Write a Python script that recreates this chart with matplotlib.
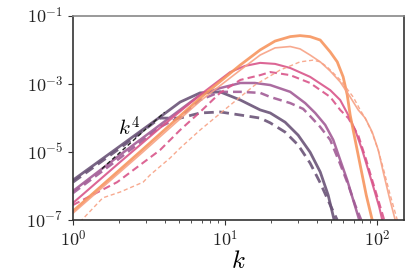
import numpy as np
import matplotlib
matplotlib.use("Agg")
import matplotlib.pyplot as plt
from matplotlib.ticker import LogLocator, NullFormatter, NullLocator

plt.rcParams['mathtext.fontset'] = 'cm'
plt.rcParams['font.family'] = ['DejaVu Serif']

# ---- data (k, log10 E) ----
k_a = [1, 2.04, 3.73, 5.06, 6.85, 9.27, 12.6, 17.0, 19.8, 24.8, 30.2, 36.2, 42.2, 47.6, 52.1]
lE_a = [-5.83, -4.83, -3.98, -3.54, -3.27, -3.24, -3.48, -3.77, -3.86, -4.13, -4.51, -5.01, -5.59, -6.27, -7.00]

k_b = [1, 2.04, 3.73, 5.06, 6.85, 9.27, 12.6, 17.0, 19.8, 24.8, 30.2, 36.2, 42.2, 49.1, 54.6]
lE_b = [-5.89, -4.89, -4.01, -4.01, -3.86, -3.83, -3.92, -4.01, -4.15, -4.42, -4.80, -5.33, -5.91, -6.56, -7.00]

k_c = [1, 2.04, 3.73, 6.85, 9.27, 12.6, 15.7, 19.8, 26.8, 33.6, 39.1, 45.5, 51.4, 57.1, 63.5, 69.5, 76.2]
lE_c = [-6.15, -5.09, -4.21, -3.33, -3.13, -2.98, -2.98, -3.04, -3.24, -3.57, -3.86, -4.21, -4.65, -5.24, -5.83, -6.41, -7.00]

k_d = [1, 2.04, 3.73, 5.06, 6.85, 9.27, 12.6, 17.0, 19.8, 26.8, 32.6, 36.2, 42.2, 49.1, 57.1, 64.5, 71.6, 78.5]
lE_d = [-6.21, -5.18, -4.27, -3.98, -3.48, -3.24, -3.24, -3.27, -3.39, -3.57, -3.74, -3.95, -4.27, -4.65, -5.36, -5.97, -6.56, -7.00]

k_e = [1, 2.04, 3.73, 6.85, 10.8, 13.5, 17.0, 21.3, 26.8, 36.2, 49.1, 57.1, 64.5, 71.6, 79.7, 87.3, 95.6, 103.1, 107.9]
lE_e = [-6.50, -5.30, -4.30, -3.33, -2.66, -2.48, -2.39, -2.42, -2.54, -2.80, -3.19, -3.48, -3.92, -4.36, -4.95, -5.53, -6.12, -6.62, -7.00]

k_f = [1, 1.95, 3.73, 5.06, 6.85, 9.27, 12.6, 17.0, 19.8, 26.8, 36.2, 49.1, 57.1, 64.5, 75.0, 84.7, 92.7, 101.6, 111.2]
lE_f = [-6.56, -5.89, -4.95, -4.36, -3.83, -3.27, -2.89, -2.75, -2.66, -2.75, -2.98, -3.39, -3.77, -4.01, -4.51, -5.24, -5.83, -6.41, -7.00]

k_g = [1, 2.84, 6.85, 12.6, 17.0, 21.3, 26.8, 31.1, 36.2, 42.2, 49.1, 54.6, 59.7, 63.5, 66.4, 71.6, 77.3, 84.7, 92.7]
lE_g = [-6.74, -4.95, -3.42, -2.45, -2.01, -1.75, -1.62, -1.59, -1.62, -1.72, -2.07, -2.36, -2.80, -3.33, -3.92, -4.65, -5.39, -6.27, -7.00]

k_h = [1, 2.84, 6.85, 12.6, 17.0, 21.3, 26.8, 31.1, 36.2, 42.2, 49.1, 57.1, 66.4, 75.0, 83.4, 92.7, 101.6, 109.5, 120, 131.3]
lE_h = [-6.80, -5.03, -3.51, -2.60, -2.16, -1.95, -1.91, -1.98, -2.16, -2.36, -2.63, -2.95, -3.39, -3.77, -4.01, -4.42, -4.95, -5.59, -6.33, -7.00]

k_i = [1.11, 1.57, 2.04, 2.89, 3.21, 4.35, 5.06, 6.85, 10.8, 15.7, 23.0, 26.8, 31.1, 37.9, 42.2, 46.9, 57.1, 69.5, 77.3, 84.7, 92.7, 101.6, 111.2, 121.8, 135.5]
lE_i = [-7.06, -6.35, -6.18, -5.89, -5.68, -5.18, -4.89, -4.36, -3.63, -3.04, -2.60, -2.48, -2.36, -2.31, -2.36, -2.51, -2.89, -3.39, -3.77, -4.07, -4.45, -4.95, -5.59, -6.27, -7.00]

k_ref = [1.55, 4.0]
E_ref = [3.2e-6, 1.45e-4]

fig = plt.figure(figsize=(4.15, 2.77), dpi=100)
ax = fig.add_axes([73/415, 1-220/277, (404-73)/415, (220-15.5)/277])

def P(k, lE, **kw):
    ax.plot(k, 10**np.array(lE), solid_joinstyle='round', dash_joinstyle='round', **kw)

dark = '#6b5478'
purple = '#a25c96'
pink = '#d9558a'
orange = '#f7955e'
lorange = '#f7a184'

P(k_a, lE_a, color=dark, lw=2.0, alpha=0.9)
P(k_b, lE_b, color=dark, lw=2.0, ls=(0, (3.5, 2)), alpha=0.9)
P(k_c, lE_c, color=purple, lw=1.8, alpha=0.9)
P(k_d, lE_d, color=purple, lw=1.8, ls=(0, (3.5, 2)), alpha=0.9)
P(k_e, lE_e, color=pink, lw=1.5, alpha=0.9)
P(k_f, lE_f, color=pink, lw=1.5, ls=(0, (3.5, 2)), alpha=0.9)
P(k_g, lE_g, color=orange, lw=2.0, alpha=0.9)
P(k_h, lE_h, color=lorange, lw=1.2, alpha=0.9)
P(k_i, lE_i, color=lorange, lw=1.0, ls=(0, (3, 2)), alpha=0.9)
ax.plot(k_ref, E_ref, color='#222222', lw=1.0, ls=(0, (3, 2)))

ax.text(2.33, 10**-4.30, '$k^4$', fontsize=15, ha='center', va='center')

ax.set_xscale('log')
ax.set_yscale('log')
ax.set_xlim(1, 150)
ax.set_ylim(1e-7, 1e-1)
ax.set_yticks([1e-7, 1e-5, 1e-3, 1e-1])
ax.set_yticklabels(['$10^{-7}$', '$10^{-5}$', '$10^{-3}$', '$10^{-1}$'])
ax.yaxis.set_minor_locator(NullLocator())
ax.set_xticks([1, 10, 100])
ax.set_xticklabels(['$10^{0}$', '$10^{1}$', '$10^{2}$'])
ax.xaxis.set_minor_locator(LogLocator(base=10, subs=np.arange(2, 10), numticks=10))
ax.xaxis.set_minor_formatter(NullFormatter())
ax.tick_params(axis='both', which='major', labelsize=13, length=3.5, width=0.8, colors='#333333', labelcolor='#222222')
ax.tick_params(axis='x', which='minor', length=2, width=0.6, colors='#333333')
ax.set_xlabel('$k$', fontsize=18, labelpad=0)
for s in ['left', 'bottom', 'right']:
    ax.spines[s].set_color('#333333')
ax.spines['top'].set_color('#888888')
for s in ax.spines.values():
    s.set_linewidth(1.2)

fig.savefig('out.png', dpi=100)
